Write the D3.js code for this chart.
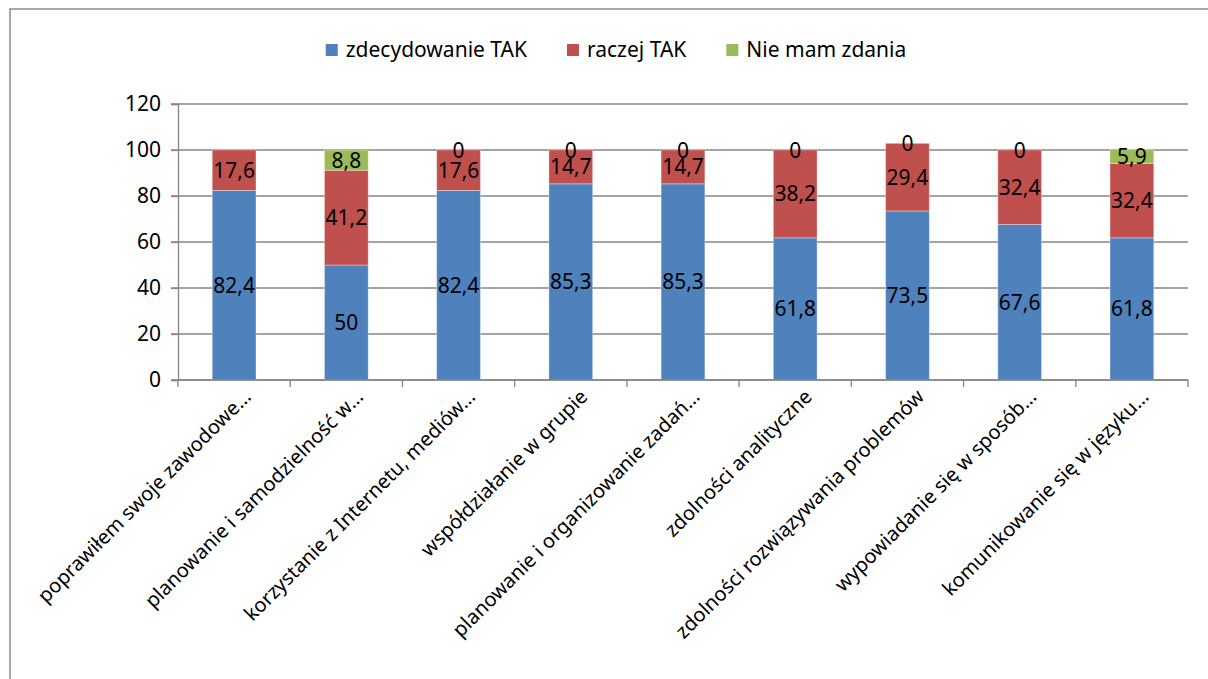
<!DOCTYPE html>
<html>
<head>
<meta charset="utf-8">
<script src="https://cdn.jsdelivr.net/npm/d3@7"></script>
<style>
  body { margin: 0; background: #fff; }
  svg text { font-family: "Noto Sans", "Open Sans", sans-serif; fill: #000; }
</style>
</head>
<body>
<svg id="chart" width="1208" height="679"></svg>
<script>
// data
var categories = [
  "poprawiłem swoje zawodowe…",
  "planowanie i samodzielność w…",
  "korzystanie z Internetu, mediów…",
  "współdziałanie w grupie",
  "planowanie i organizowanie zadań…",
  "zdolności analityczne",
  "zdolności rozwiązywania problemów",
  "wypowiadanie się w sposób…",
  "komunikowanie się w języku…"
];
var seriesNames = ["zdecydowanie TAK", "raczej TAK", "Nie mam zdania"];
var zdecydowanieTak = [82.4, 50, 82.4, 85.3, 85.3, 61.8, 73.5, 67.6, 61.8];
var raczejTak = [17.6, 41.2, 17.6, 14.7, 14.7, 38.2, 29.4, 32.4, 32.4];
var nieMamZdania = [null, 8.8, 0, 0, 0, 0, 0, 0, 5.9];
var yTicks = [0, 20, 40, 60, 80, 100, 120];
var colors = ["#4F81BD", "#C0504D", "#9BBB59"];

var svg = d3.select("#chart");
var plotL = 178, plotR = 1188, plotT = 104, plotB = 380;

// frame round the chart
svg.append("rect")
  .attr("x", 10).attr("y", 9)
  .attr("width", 1240).attr("height", 700)
  .attr("fill", "none").attr("stroke", "#8c8c8c").attr("stroke-width", 1.5);

var x = d3.scaleBand().domain(categories).range([plotL, plotR])
  .paddingInner(0.61).paddingOuter(0.305);
var y = d3.scaleLinear().domain([0, 120]).range([plotB, plotT]);
var step = x.step();

var pl = d3.formatLocale({decimal: ",", thousands: " ", grouping: [3], currency: ["", ""]});
var fmt = pl.format("~g");

// gridlines
svg.append("g").selectAll("line").data(yTicks).enter().append("line")
  .attr("x1", plotL - 7).attr("x2", plotR)
  .attr("y1", function(d){ return y(d); }).attr("y2", function(d){ return y(d); })
  .attr("stroke", "#868686").attr("stroke-width", 1.3);

// y axis
var yAxis = svg.append("g").attr("transform", "translate(" + plotL + ",0)")
  .call(d3.axisLeft(y).tickValues(yTicks).tickSize(7).tickPadding(10));
yAxis.select(".domain").attr("stroke", "#868686").attr("stroke-width", 1.3);
yAxis.selectAll(".tick line").attr("stroke", "#868686").attr("stroke-width", 1.3);
yAxis.selectAll("text").style("font-size", "21px").attr("fill", "#000");

// stacked series
var rows = categories.map(function(c, i){
  return {cat: c, vals: [zdecydowanieTak[i], raczejTak[i], nieMamZdania[i]]};
});
var segs = [];
rows.forEach(function(r){
  var base = 0;
  r.vals.forEach(function(v, k){
    if (v === null) return;
    segs.push({cat: r.cat, k: k, v: v, y0: base, y1: base + v});
    base += v;
  });
});

svg.append("g").selectAll("rect").data(segs.filter(function(s){ return s.v > 0; }))
  .enter().append("rect")
  .attr("x", function(d){ return x(d.cat); })
  .attr("width", x.bandwidth())
  .attr("y", function(d){ return y(d.y1); })
  .attr("height", function(d){ return y(d.y0) - y(d.y1); })
  .attr("fill", function(d){ return colors[d.k]; })
  .attr("stroke", "#ffffff").attr("stroke-opacity", 0.35).attr("stroke-width", 1);

// x axis with ticks at slot boundaries
svg.append("line").attr("x1", plotL).attr("x2", plotR).attr("y1", plotB).attr("y2", plotB)
  .attr("stroke", "#868686").attr("stroke-width", 1.3);
svg.append("g").selectAll("line").data(d3.range(categories.length + 1)).enter().append("line")
  .attr("x1", function(i){ return plotL + i * step; })
  .attr("x2", function(i){ return plotL + i * step; })
  .attr("y1", plotB).attr("y2", plotB + 7)
  .attr("stroke", "#868686").attr("stroke-width", 1.3);

// data labels
svg.append("g").selectAll("text").data(segs).enter().append("text")
  .attr("x", function(d){ return x(d.cat) + x.bandwidth() / 2; })
  .attr("y", function(d){ return y((d.y0 + d.y1) / 2); })
  .attr("dy", "0.36em")
  .attr("text-anchor", "middle")
  .style("font-size", "21px")
  .text(function(d){ return fmt(d.v); });

// category labels, rotated
svg.append("g").selectAll("text").data(categories).enter().append("text")
  .attr("transform", function(d){
    return "translate(" + (x(d) + x.bandwidth() / 2 + 18) + "," + (plotB + 18) + ") rotate(-45)";
  })
  .attr("text-anchor", "end")
  .style("font-size", "20px")
  .text(function(d){ return d; });

// legend
var lg = svg.append("g");
var items = lg.selectAll("g").data(seriesNames).enter().append("g");
items.append("rect").attr("width", 12).attr("height", 12).attr("y", 44)
  .attr("fill", function(d, i){ return colors[i]; });
items.append("text").attr("x", 20).attr("y", 57).style("font-size", "21px")
  .text(function(d){ return d; });
var pos = 0, offs = [];
items.each(function(){
  offs.push(pos);
  pos += 20 + d3.select(this).select("text").node().getComputedTextLength() + 40;
});
pos -= 40;
var start = 616 - pos / 2;
items.attr("transform", function(d, i){ return "translate(" + (start + offs[i]) + ",0)"; });
</script>
</body>
</html>
